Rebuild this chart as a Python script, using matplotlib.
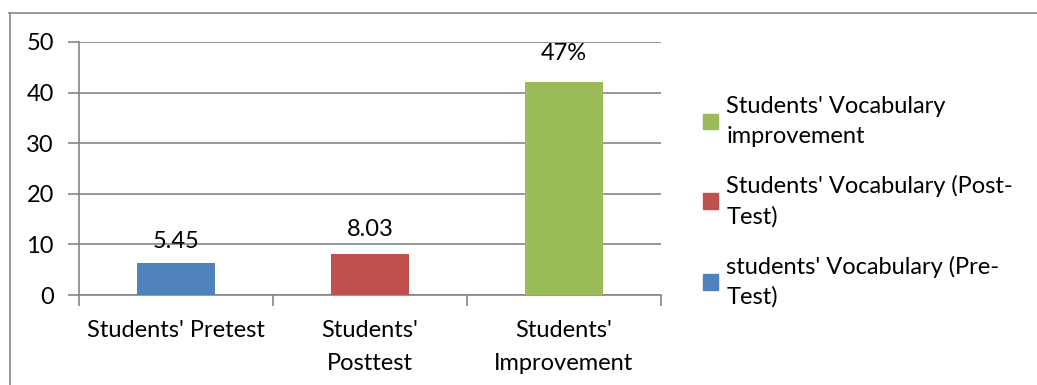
import matplotlib
matplotlib.use("Agg")
import matplotlib.pyplot as plt
from matplotlib.lines import Line2D
from matplotlib.patches import Patch

categories = ["Students' Pretest", "Students'\nPosttest", "Students'\nImprovement"]
values = [6.3, 8.1, 42.1]
value_labels = ["5.45", "8.03", "47%"]
colors = ["#4F81BD", "#C0504D", "#9BBB59"]
legend_labels = ["Students' Vocabulary\nimprovement",
                 "Students' Vocabulary (Post-\nTest)",
                 "students' Vocabulary (Pre-\nTest)"]
yticks = [0, 10, 20, 30, 40, 50]

plt.rcParams['font.family'] = ['Lato', 'DejaVu Sans']
FS = 17

W, H = 1037, 385
fig = plt.figure(figsize=(W/100, H/100), dpi=100)
ax = fig.add_axes([79/W, 1-295/H, (661-79)/W, (295-42)/H])

x = range(len(categories))
ax.bar(x, values, width=0.40, color=colors, zorder=3)
label_offsets = [8, 10, 13]
for xi, v, lab, off in zip(x, values, value_labels, label_offsets):
    ax.annotate(lab, (xi, v), xytext=(0, off), textcoords='offset points',
                ha='center', va='bottom', fontsize=FS, color='black')

ax.set_xlim(-0.5, 2.5)
ax.set_ylim(0, 50)
ax.set_yticks(yticks)
ax.set_yticklabels([str(t) for t in yticks], fontsize=FS)
ax.grid(axis='y', color='#868686', linewidth=1.2, zorder=0)
ax.set_axisbelow(True)

ax.set_xticks([0, 1, 2])
ax.set_xticklabels(categories, fontsize=FS, linespacing=1.7)
ax.tick_params(axis='x', length=0, pad=18)
ax.tick_params(axis='y', length=8, color='#868686', width=1.2, pad=10)
# category boundary ticks
ax.set_xticks([-0.5, 0.5, 1.5, 2.5], minor=True)
ax.tick_params(axis='x', which='minor', length=8, color='#868686', width=1.2)

for s in ['top', 'right']:
    ax.spines[s].set_visible(False)
for s in ['left', 'bottom']:
    ax.spines[s].set_color('#868686')
    ax.spines[s].set_linewidth(1.2)

handles = [Patch(color=colors[2]), Patch(color=colors[1]), Patch(color=colors[0])]
leg = fig.legend(handles, legend_labels, loc='center left',
                 bbox_to_anchor=(691/W, 1-202/H), frameon=False,
                 fontsize=FS, handlelength=0.65, handleheight=0.65,
                 handletextpad=0.35, labelspacing=1.2, borderpad=0)
for t in leg.get_texts():
    t.set_linespacing(1.5)

# outer chart border (top and left visible)
fig.add_artist(Line2D([9/W, 1], [1-12.5/H, 1-12.5/H], color='#868686', linewidth=1.2))
fig.add_artist(Line2D([9.5/W, 9.5/W], [0, 1-12.5/H], color='#868686', linewidth=1.2))

fig.savefig("out.png", dpi=100)
